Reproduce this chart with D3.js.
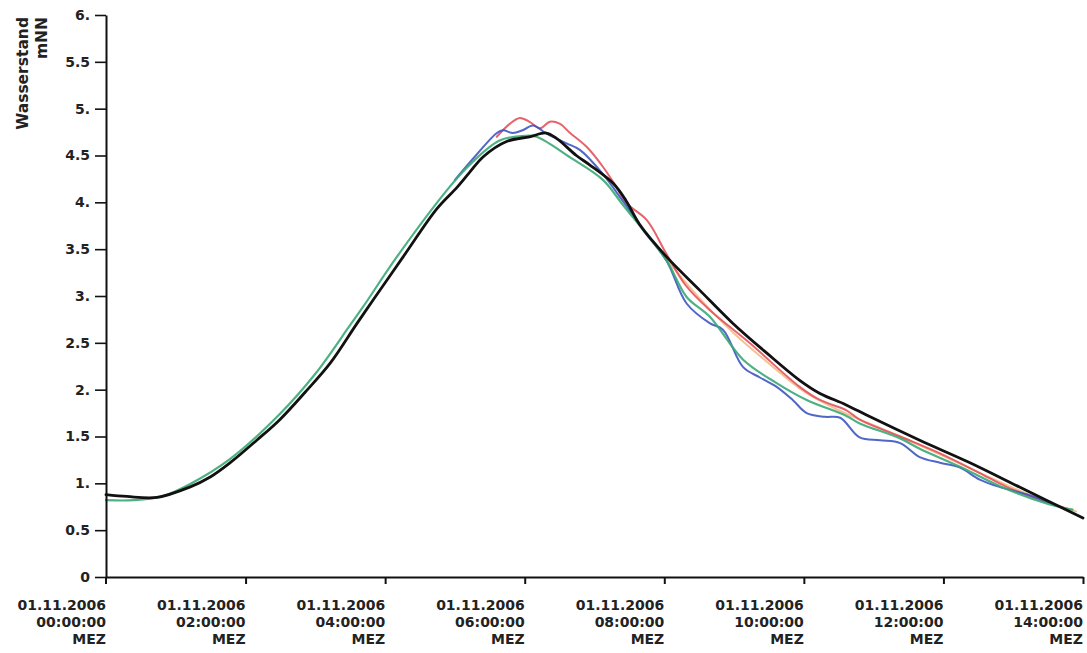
<!DOCTYPE html>
<html><head><meta charset="utf-8">
<script src="https://cdn.jsdelivr.net/npm/d3@7"></script>
<style>
html,body{margin:0;padding:0;background:#fff;}
svg{display:block;}
text{font-family:"DejaVu Sans",Verdana,sans-serif;font-weight:bold;fill:#222;}
</style></head>
<body><svg id="chart" width="1087" height="653"></svg>
<script>
// Data (time in hours since 01.11.2006 00:00 MEZ, values in mNN)
const xTickValues = [0, 2, 4, 6, 8, 10, 12, 14];
const xTickLabels = ["00:00:00", "02:00:00", "04:00:00", "06:00:00", "08:00:00", "10:00:00", "12:00:00", "14:00:00"];
const yTickValues = [0, 0.5, 1, 1.5, 2, 2.5, 3, 3.5, 4, 4.5, 5, 5.5, 6];

const blackT = [0, 0.3, 0.73, 1.2, 1.5, 1.78, 2.16, 2.49, 2.85, 3.21, 3.59, 3.83, 4.26, 4.74, 5.03, 5.21, 5.41, 5.74, 6.07, 6.31, 6.46, 6.74, 6.93, 7.27, 7.45, 7.65, 8.03, 8.51, 8.98, 9.47, 9.94, 10.23, 10.6, 10.95, 11.66, 12.38, 13.09, 14.0];
const blackV = [0.88, 0.86, 0.85, 0.96, 1.07, 1.22, 1.46, 1.68, 1.97, 2.28, 2.70, 2.96, 3.42, 3.93, 4.16, 4.32, 4.49, 4.65, 4.70, 4.74, 4.68, 4.50, 4.40, 4.20, 4.02, 3.76, 3.42, 3.06, 2.71, 2.39, 2.10, 1.96, 1.84, 1.71, 1.46, 1.22, 0.96, 0.63];

const greenT = [0, 0.4, 0.8, 1.2, 1.78, 2.49, 3.0, 3.49, 3.68, 4.17, 4.93, 5.21, 5.64, 6.0, 6.17, 6.65, 7.12, 7.4, 8.03, 8.32, 8.65, 9.13, 9.61, 10.04, 10.61, 10.8, 11.38, 11.66, 12.23, 12.81, 13.5, 13.85];
const greenV = [0.82, 0.82, 0.86, 0.99, 1.26, 1.74, 2.17, 2.68, 2.88, 3.42, 4.17, 4.40, 4.66, 4.71, 4.70, 4.48, 4.24, 3.98, 3.38, 2.99, 2.78, 2.32, 2.07, 1.89, 1.72, 1.64, 1.48, 1.37, 1.18, 0.97, 0.78, 0.72];

const blueT = [5.0, 5.3, 5.6, 5.69, 5.83, 5.97, 6.12, 6.3, 6.6, 6.79, 7.1, 7.4, 7.7, 8.03, 8.32, 8.65, 8.84, 9.13, 9.37, 9.61, 9.84, 10.04, 10.3, 10.52, 10.8, 11.09, 11.38, 11.66, 11.95, 12.23, 12.52, 12.81, 13.2, 13.6];
const blueV = [4.24, 4.50, 4.74, 4.77, 4.74, 4.77, 4.82, 4.74, 4.63, 4.56, 4.32, 4.02, 3.70, 3.38, 2.92, 2.71, 2.64, 2.24, 2.13, 2.03, 1.89, 1.75, 1.71, 1.70, 1.49, 1.46, 1.43, 1.28, 1.22, 1.17, 1.04, 0.96, 0.88, 0.77];

const redT = [5.6, 5.79, 5.93, 6.07, 6.22, 6.36, 6.5, 6.65, 6.89, 7.12, 7.3, 7.46, 7.75, 8.03, 8.3, 8.65, 9.22, 9.94, 10.23, 10.61, 10.8, 11.38, 11.95, 12.52, 12.91, 13.4, 13.8];
const redV = [4.70, 4.84, 4.90, 4.86, 4.79, 4.86, 4.84, 4.74, 4.59, 4.38, 4.18, 3.99, 3.81, 3.45, 3.12, 2.85, 2.50, 2.03, 1.89, 1.78, 1.68, 1.50, 1.32, 1.11, 0.96, 0.82, 0.72];

const orangeT = [8.0, 8.5, 9.0, 9.5, 10.0, 10.5, 11.0, 11.5, 12.0, 12.5, 13.0, 13.5, 13.9];
const orangeV = [3.42, 2.98, 2.60, 2.28, 1.98, 1.78, 1.62, 1.46, 1.29, 1.12, 0.95, 0.80, 0.70];

const svg = d3.select("#chart");
const x = d3.scaleLinear().domain([0, 14]).range([106, 1083]);
const y = d3.scaleLinear().domain([0, 6]).range([577, 15]);

const line = d3.line().x(d => x(d[0])).y(d => y(d[1])).curve(d3.curveCatmullRom.alpha(0.5));
const zip = (t, v) => t.map((d, i) => [d, v[i]]);

const series = [
  {t: orangeT, v: orangeV, c: "#f4b27a", w: 2, o: 0.8},
  {t: redT, v: redV, c: "#e2525a", w: 2, o: 0.9},
  {t: blueT, v: blueV, c: "#3d55c2", w: 2, o: 0.9},
  {t: greenT, v: greenV, c: "#3aa877", w: 2.2, o: 0.9},
  {t: blackT, v: blackV, c: "#111", w: 2.8, o: 1}
];
series.forEach(s => {
  svg.append("path").datum(zip(s.t, s.v))
    .attr("d", line).attr("fill", "none")
    .attr("stroke", s.c).attr("stroke-width", s.w).attr("stroke-opacity", s.o)
    .attr("stroke-linejoin", "round").attr("stroke-linecap", "round");
});

// Y axis
const yAxis = d3.axisLeft(y).tickValues(yTickValues).tickSizeInner(11).tickSizeOuter(0).tickPadding(5)
  .tickFormat(d => d === 0 ? "0" : (Number.isInteger(d) ? d + "." : String(d)));
const gy = svg.append("g").attr("transform", "translate(106,0)").call(yAxis);
gy.select(".domain").attr("stroke", "#111").attr("stroke-width", 2);
gy.selectAll(".tick line").attr("stroke", "#111").attr("stroke-width", 1.6);
gy.selectAll(".tick text").style("font-size", "14px").attr("fill", "#222");
svg.append("line").attr("x1", 106).attr("x2", 106).attr("y1", y(0)).attr("y2", y(0) + 7)
  .attr("stroke", "#111").attr("stroke-width", 2);

// X axis
const xAxis = d3.axisBottom(x).tickValues(xTickValues.slice(1)).tickSizeInner(7).tickSizeOuter(0).tickFormat("");
const gx = svg.append("g").attr("transform", `translate(0,${y(0)})`).call(xAxis);
gx.select(".domain").attr("stroke", "#111").attr("stroke-width", 2);
gx.selectAll(".tick line").attr("stroke", "#111").attr("stroke-width", 2);

const lab = svg.append("g");
xTickValues.forEach((v, i) => {
  const t = lab.append("text").attr("text-anchor", "end").style("font-size", "14px");
  const lines = ["01.11.2006", xTickLabels[i], "MEZ"];
  lines.forEach((s, j) => {
    t.append("tspan").attr("x", x(v)).attr("y", 610 + j * 17).text(s);
  });
});

// Y axis title
svg.append("text").attr("transform", "translate(28,17) rotate(-90)")
  .attr("text-anchor", "end").style("font-size", "15.5px").text("Wasserstand");
svg.append("text").attr("transform", "translate(47,17) rotate(-90)")
  .attr("text-anchor", "end").style("font-size", "15.5px").text("mNN");
</script></body></html>
